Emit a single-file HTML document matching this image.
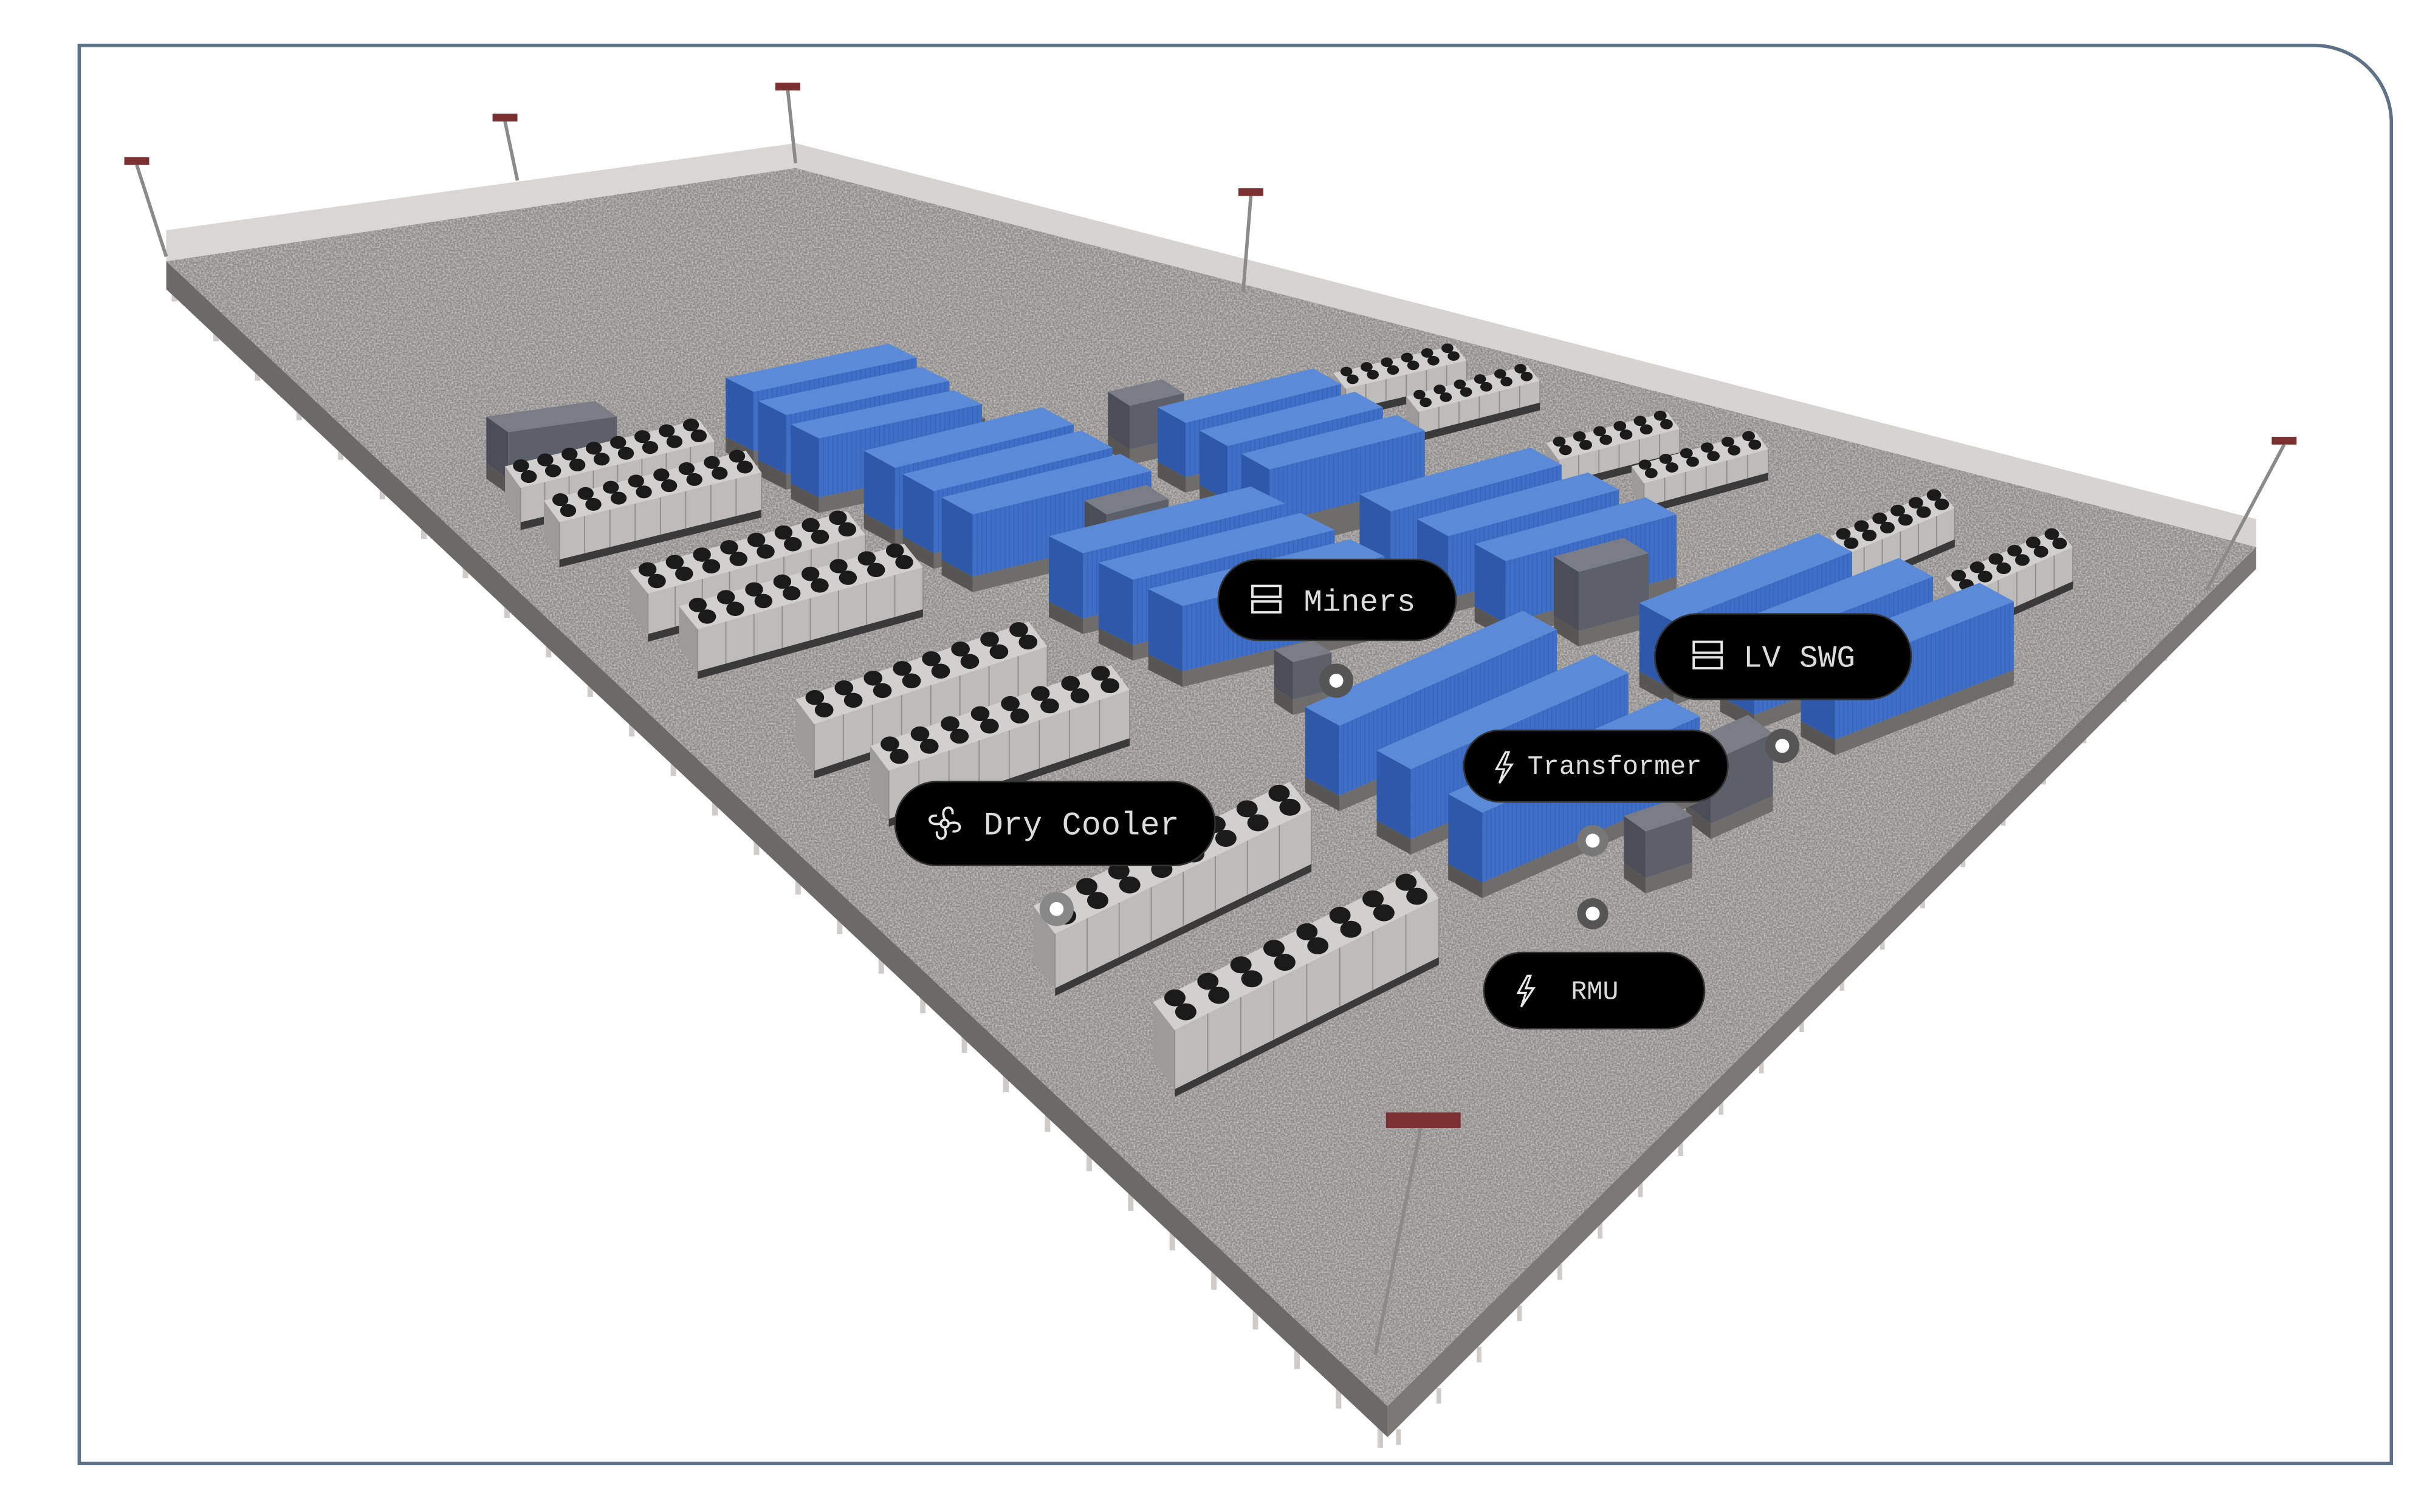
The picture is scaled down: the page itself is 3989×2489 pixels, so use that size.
<!DOCTYPE html>
<html><head><meta charset="utf-8"><style>
html,body{margin:0;padding:0;background:#fff;}
svg{display:block;}
</style></head><body>
<svg id="s" width="3989" height="2489" viewBox="0 0 1560 973" xmlns="http://www.w3.org/2000/svg">
<defs>
<filter id="noise" x="0" y="0" width="100%" height="100%">
<feTurbulence type="fractalNoise" baseFrequency="0.9" numOctaves="2" seed="3"/>
<feColorMatrix type="matrix" values="0 0 0 0 1  0 0 0 0 1  0 0 0 0 1  0 0 0 1.8 -0.6"/>
</filter>
<clipPath id="plat"><polygon points="107,168 512,108 1452,352 893,905"/></clipPath>
</defs>
<rect width="1560" height="973" fill="#fff"/>
<path d="M51,29 H1489 A50,50 0 0 1 1539,79 V942 H51 Z" fill="none" stroke="#5d7187" stroke-width="2.2"/>
<g id="posts" fill="#cfcbc8"></g>
<polygon points="107,168 893,905 893,925 107,186" fill="#6c6a69"/>
<polygon points="893,905 1452,352 1452,366 893,925" fill="#7a7877"/>
<polygon points="107,148 512,92 512,108 107,168" fill="#d2cfcc" opacity="0.85"/>
<polygon points="512,92 1452,334 1452,352 512,108" fill="#cfccc9" opacity="0.85"/>
<polygon points="107,168 512,108 1452,352 893,905" fill="#8e8b89"/>
<g clip-path="url(#plat)"><rect x="100" y="100" width="1360" height="810" filter="url(#noise)" opacity="0.55"/></g>
<g id="objs"></g>
<g id="poles" stroke="#8a8a8a" stroke-width="2.2"></g>

<g>
<circle cx="860" cy="438" r="11" fill="#555"/><circle cx="860" cy="438" r="4.5" fill="#fff"/>
<circle cx="1147" cy="480" r="11" fill="#555"/><circle cx="1147" cy="480" r="4.5" fill="#fff"/>
<circle cx="1025" cy="541" r="10" fill="#777"/><circle cx="1025" cy="541" r="4.5" fill="#fff"/>
<circle cx="1025" cy="588" r="10" fill="#555"/><circle cx="1025" cy="588" r="4.5" fill="#fff"/>
<circle cx="680" cy="585" r="11" fill="#888"/><circle cx="680" cy="585" r="4.5" fill="#fff"/>
</g>

<g font-family="'Liberation Mono', monospace" fill="#dcdcdc">
<rect x="784" y="360" width="153" height="52" rx="26" fill="#000" stroke="#333"/>
<g fill="none" stroke="#e6e6e6" stroke-width="1.5"><rect x="806" y="377" width="18" height="7"/><rect x="806" y="387" width="18" height="7"/></g>
<text x="839" y="393" font-size="20">Miners</text>

<rect x="1065" y="395" width="165" height="55" rx="27.5" fill="#000" stroke="#333"/>
<g fill="none" stroke="#e6e6e6" stroke-width="1.5"><rect x="1090" y="413" width="18" height="7"/><rect x="1090" y="423" width="18" height="7"/></g>
<text x="1122" y="429" font-size="20">LV SWG</text>

<rect x="942" y="470" width="170" height="46" rx="23" fill="#000" stroke="#333"/>
<path d="M969,484 l-6,11 h5 l-3,9 l8,-12 h-5 l3,-8 z" fill="none" stroke="#e6e6e6" stroke-width="1.3"/>
<text x="983" y="498" font-size="17">Transformer</text>

<rect x="576" y="503" width="206" height="54" rx="27" fill="#000" stroke="#333"/>
<g fill="none" stroke="#e6e6e6" stroke-width="1.5"><circle cx="608" cy="530" r="2.5"/><path d="M608,527 c-4,-8 6,-10 5,-3 M611,530 c8,-3 9,6 2,5 M608,533 c3,8 -6,9 -5,2 M605,530 c-8,2 -9,-6 -2,-5"/></g>
<text x="633" y="537" font-size="21">Dry Cooler</text>

<rect x="955" y="613" width="142" height="49" rx="24.5" fill="#000" stroke="#333"/>
<path d="M983,628 l-6,11 h5 l-3,9 l8,-12 h-5 l3,-8 z" fill="none" stroke="#e6e6e6" stroke-width="1.3"/>
<text x="1011" y="643" font-size="17">RMU</text>
</g>
</svg>
<script>
(function(){
var NS="http://www.w3.org/2000/svg";
function el(p,t,a){var e=document.createElementNS(NS,t);for(var k in a)e.setAttribute(k,a[k]);p.appendChild(e);return e;}
function pts(a){return a.map(function(p){return p[0].toFixed(1)+","+p[1].toFixed(1)}).join(" ");}
var posts=document.getElementById("posts");
for(var i=0;i<30;i++){var t=i/29;var x=112+t*(888-112),y=180+t*(918-180);el(posts,"rect",{x:x-1.5,y:y,width:3.5,height:14});}
for(var i=0;i<22;i++){var t=i/21;var x=900+t*(1445-900),y=920-t*(920-362);el(posts,"rect",{x:x-1.5,y:y,width:3,height:10});}
var objs=document.getElementById("objs");
var items=[];
function box(P,u,v,h,c,kind,n){items.push({P:P,u:u,v:v,h:h,c:c,kind:kind,n:n});}
var blue=["#5b8bd8","#3f6ec6","#2e59aa"],gray=["#7a7d86","#5d6069","#4b4e56"],cool=["#d2d0ce","#bebcba","#9d9b99"];
function draw(it){
 var P=it.P,u=it.u,v=it.v,h=it.h,c=it.c;
 var A=P,B=[P[0]+u[0],P[1]+u[1]],C=[B[0]+v[0],B[1]+v[1]],D=[P[0]+v[0],P[1]+v[1]];
 function dn(p,d){return [p[0],p[1]+d];}
 var g=el(objs,"g",{});
 if(it.kind!="cool"){
  el(g,"polygon",{points:pts([dn(D,h),dn(C,h),dn(C,h+10),dn(D,h+10)]),fill:"#6f6d6b"});
  el(g,"polygon",{points:pts([dn(A,h),dn(D,h),dn(D,h+10),dn(A,h+10)]),fill:"#585654"});
 } else {
  el(g,"polygon",{points:pts([dn(D,h),dn(C,h),dn(C,h+5),dn(D,h+5)]),fill:"#3a3a3a"});
 }
 el(g,"polygon",{points:pts([A,D,dn(D,h),dn(A,h)]),fill:c[2]});
 el(g,"polygon",{points:pts([D,C,dn(C,h),dn(D,h)]),fill:c[1]});
 el(g,"polygon",{points:pts([A,B,C,D]),fill:c[0]});
 if(it.kind=="cool"){
  var n=it.n,L=Math.hypot(u[0],u[1]);
  var r=Math.min(L/n*0.38,Math.hypot(v[0],v[1])*0.3);
  for(var i=0;i<n;i++)for(var j=0;j<2;j++){
   var s=(i+0.5)/n,q=(j+0.5)/2;
   el(g,"ellipse",{cx:P[0]+u[0]*s+v[0]*q,cy:P[1]+u[1]*s+v[1]*q-2,rx:r,ry:r*0.8,fill:"#1b1b1b"});
  }
  for(var i=0;i<=n;i++){var s=i/n;var x=D[0]+u[0]*s,y=D[1]+u[1]*s;el(g,"line",{x1:x,y1:y,x2:x,y2:y+h,stroke:"#8f8d8b","stroke-width":0.7});}
 } else if(c==blue){
  var L=Math.hypot(u[0],u[1]),m=Math.floor(L/3);
  for(var i=1;i<m;i++){var s=i/m;var x=D[0]+u[0]*s,y=D[1]+u[1]*s;el(g,"line",{x1:x,y1:y,x2:x,y2:y+h,stroke:"#3565bb","stroke-width":0.6});}
 }
}
var cl=[[325,300,125,-30,10,14,22,8],[350,322,130,-32,10,14,24,8],[405,367,140,-38,12,15,26,8],[437,390,145,-40,12,15,27,8],
[512,450,150,-50,12,16,30,8],[560,480,155,-52,12,16,31,8],[665,583,165,-80,14,18,35,8],[742,645,170,-85,14,18,38,8],
[858,240,78,-18,8,10,14,6],[905,255,78,-20,8,10,14,6],[995,285,78,-20,8,11,15,6],[1050,300,80,-22,8,11,15,6],[1178,345,70,-30,10,12,20,6],[1252,372,72,-32,10,12,22,6]];
cl.forEach(function(a){box([a[0],a[1]],[a[2],a[3]],[a[4],a[5]],a[6],cool,"cool",a[7]);});
[[313,268,70,-10,14,10,30],[713,252,35,-8,14,9,28],[585,268,35,-8,14,9,20],[698,322,40,-10,14,9,22],[837,290,40,-10,16,10,36],[1000,358,45,-12,16,10,38],[1085,478,40,-18,16,12,40],[820,418,25,-6,12,8,24],[1045,525,30,-10,14,10,30]].forEach(function(a){box([a[0],a[1]],[a[2],a[3]],[a[4],a[5]],a[6],gray,"gray");});
function grp(x,y,u,v,h,n,dx,dy){for(var i=0;i<n;i++)box([x+dx*i,y+dy*i],u,v,h,blue,"c");}
grp(467,243,[105,-22],[18,9],38,3,21,15);
grp(556,290,[115,-28],[20,11],40,3,25,15);
grp(745,262,[100,-25],[18,10],35,3,27,15);
grp(675,345,[130,-32],[22,11],42,3,32,17);
grp(875,318,[110,-30],[20,11],40,3,37,16);
grp(1055,388,[115,-45],[22,12],44,3,52,16);
grp(840,455,[140,-62],[22,12],45,3,46,28);
items.sort(function(a,b){return (a.P[1]+a.P[0]*0.05)-(b.P[1]+b.P[0]*0.05);});
items.forEach(draw);
var poles=document.getElementById("poles");
[[88,106,107,165],[325,78,333,116],[507,58,512,105],[805,126,800,188],[1470,286,1420,380],[915,722,885,872]].forEach(function(p){
 el(poles,"line",{x1:p[0],y1:p[1],x2:p[2],y2:p[3]});
 el(poles,"rect",{x:p[0]-8,y:p[1]-5,width:16,height:5,fill:"#7a3030",stroke:"none"});
});
var big=poles.lastChild;big.setAttribute("x",892);big.setAttribute("y",716);big.setAttribute("width",48);big.setAttribute("height",10);
})();
</script>
</body></html>
